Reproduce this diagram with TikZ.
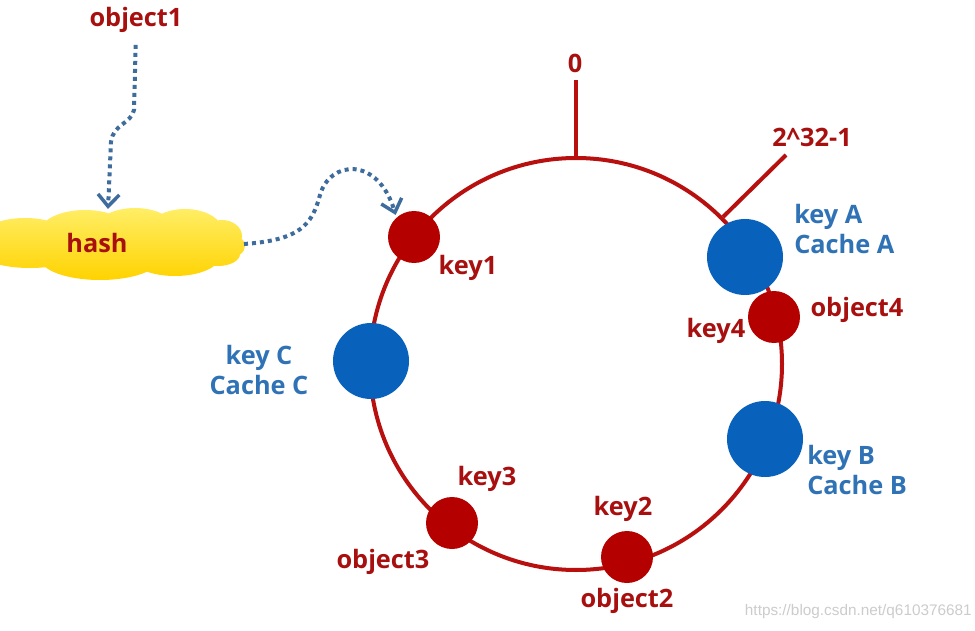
\documentclass[tikz,border=0pt]{standalone}
\usepackage{fontspec}
\setmainfont{Open Sans}
\newfontfamily\wmfont{Liberation Sans}
\usetikzlibrary{arrows.meta}
\definecolor{ringred}{HTML}{B80F0F}
\definecolor{dotred}{HTML}{B50000}
\definecolor{txtred}{HTML}{A8100F}
\definecolor{dotblue}{HTML}{0862BC}
\definecolor{txtblue}{HTML}{2F72B6}
\definecolor{arrblue}{HTML}{3E6C9C}
\definecolor{cloudtop}{HTML}{FFEE66}
\definecolor{cloudbot}{HTML}{FFD300}
\tikzset{
  lbl/.style={font=\fontsize{19}{22.5}\selectfont\bfseries, text=txtred, inner sep=0pt},
  bluelbl/.style={lbl, text=txtblue, align=left},
  redc/.style={circle, fill=dotred, minimum size=39pt, inner sep=0pt},
  bluec/.style={circle, fill=dotblue, minimum size=57pt, inner sep=0pt},
  ringline/.style={draw=ringred, line width=3pt},
  dotarrow/.style={draw=arrblue, line width=3pt, dash pattern=on 3pt off 3pt,
    -{Straight Barb[length=9pt,width=16pt,line width=2.6pt]}}
}
\begin{document}
\begin{tikzpicture}[x=0.75pt,y=-0.75pt]
\useasboundingbox (0,0) rectangle (975,631);
\clip (0,0) rectangle (975,631);
\fill[white] (0,0) rectangle (975,631);

% cloud (union of lobes, one shaded path)
\shade[top color=cloudtop, bottom color=cloudbot]
  (25,238) ellipse [x radius=45, y radius=20]
  (85,232) ellipse [x radius=45, y radius=22]
  (135,230) ellipse [x radius=40, y radius=22]
  (185,232) ellipse [x radius=38, y radius=23]
  (222,236) ellipse [x radius=20, y radius=16]
  (228,246) ellipse [x radius=17, y radius=12]
  (30,252) ellipse [x radius=50, y radius=16]
  (100,258) ellipse [x radius=60, y radius=22]
  (175,256) ellipse [x radius=45, y radius=20]
  (218,254) ellipse [x radius=22, y radius=12]
  (120,244) ellipse [x radius=110, y radius=25];
\coordinate (hash) at (244,244);
\node[lbl] (hashtext) at (97,243) {hash};

% ring
\node[circle, ringline, minimum size=309pt, inner sep=0pt] (ring) at (576,364) {};
\node[lbl] (zero) at (575,63) {0};
\coordinate (zerotop) at (576,80);
\draw[ringline] (ring.north) -- (zerotop);
\node[lbl] (maxv) at (812,137) {2\textasciicircum 32-1};
\coordinate (maxtop) at (786,155);
\draw[ringline] (ring.45) -- (maxtop);

% nodes on ring
\node[redc]  (key1) at (414,237) {};
\node[bluec] (cacheA) at (745,257) {};
\node[redc]  (key4) at (774,317) {};
\node[bluec] (cacheC) at (371,361) {};
\node[bluec] (cacheB) at (765,439) {};
\node[redc]  (key3) at (452,523) {};
\node[redc]  (key2) at (627,557) {};

% labels
\node[lbl] (object1) at (136,20) {object1};
\node[bluelbl, anchor=west] (lblA) at (794,229) {key A\\Cache A};
\node[lbl] (lblkey1) at (468,268) {key1};
\node[lbl] (lblkey4) at (716,331) {key4};
\node[lbl] (lblobj4) at (857,310) {object4};
\node[bluelbl, align=center] (lblC) at (259,370) {key C\\Cache C};
\node[bluelbl, anchor=west] (lblB) at (807,470) {key B\\Cache B};
\node[lbl] (lblkey3) at (487,479) {key3};
\node[lbl] (lblobj3) at (383,562) {object3};
\node[lbl] (lblkey2) at (623,509) {key2};
\node[lbl] (lblobj2) at (627,601) {object2};

% dotted arrows
\coordinate (hashtop) at (108,209);
\draw[dotarrow, shorten <=9pt] (object1.south) -- (134,110)
  .. controls (131,124) and (113,124) .. (111,142) -- (hashtop);
\draw[dotarrow, shorten >=2pt] (hash)
  .. controls (300,240) and (312,225) .. (320,195)
  .. controls (330,160) and (378,156) .. (key1.132);

% watermark
\node[font=\wmfont\fontsize{11.5}{13}\selectfont, text=black!20, anchor=east, inner sep=0pt]
  (wm) at (972,612) {https://blog.csdn.net/q610376681};
\end{tikzpicture}
\end{document}
